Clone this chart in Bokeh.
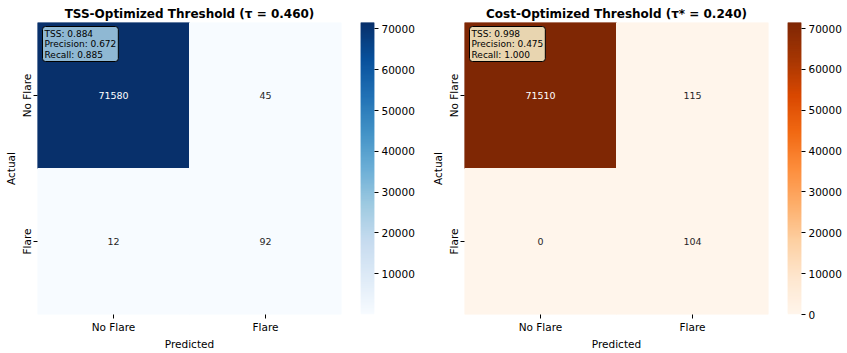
import numpy as np
from bokeh.plotting import figure
from bokeh.layouts import row
from bokeh.models import ColumnDataSource, FixedTicker, FactorRange, Label, Range1d
from bokeh.palettes import Blues256, Oranges256
from bokeh.embed import file_html
from bokeh.resources import INLINE

actual = ["No Flare", "No Flare", "Flare", "Flare"]
predicted = ["No Flare", "Flare", "No Flare", "Flare"]
labels = ["No Flare", "Flare"]

tss_counts = [71580, 45, 12, 92]
cost_counts = [71510, 115, 0, 104]

tss_title = "TSS-Optimized Threshold (τ = 0.460)"
cost_title = "Cost-Optimized Threshold (τ* = 0.240)"
tss_stats = "TSS: 0.884\nPrecision: 0.672\nRecall: 0.885"
cost_stats = "TSS: 0.998\nPrecision: 0.475\nRecall: 1.000"
cbar_ticks = [0, 10000, 20000, 30000, 40000, 50000, 60000, 70000]

FONT = "DejaVu Sans"
H = 353
TOP = 22
BOTTOM = 39


def color_of(v, lo, hi, pal):
    idx = int(round((v - lo) / (hi - lo) * (len(pal) - 1)))
    return pal[max(0, min(len(pal) - 1, idx))]


def style_axis(ax):
    ax.axis_line_color = None
    ax.major_tick_line_color = "black"
    ax.major_tick_out = 4
    ax.major_tick_in = 0
    ax.minor_tick_line_color = None
    ax.major_label_text_font = FONT
    ax.major_label_text_font_size = "10.5px"
    ax.major_label_text_color = "black"
    ax.axis_label_text_font = FONT
    ax.axis_label_text_font_size = "10.5px"
    ax.axis_label_text_font_style = "normal"
    ax.axis_label_text_color = "black"


def heat(counts, palette, title, stats, box_color, width, border_left, border_right):
    pal = list(reversed(palette))
    lo, hi = min(counts), max(counts)
    cols = [color_of(v, lo, hi, pal) for v in counts]
    tcols = ["white" if (v - lo) / (hi - lo) > 0.5 else "#262626" for v in counts]
    src = ColumnDataSource(dict(x=predicted, y=actual, v=counts,
                                t=[str(c) for c in counts], c=cols, tc=tcols))
    p = figure(width=width, height=H,
               x_range=FactorRange(*labels), y_range=FactorRange(*reversed(labels)),
               output_backend="svg", toolbar_location=None, title=title,
               min_border_left=border_left, min_border_right=border_right,
               min_border_top=TOP, min_border_bottom=BOTTOM)
    p.rect(x="x", y="y", width=1, height=1, source=src, fill_color="c", line_color="c")
    p.text(x="x", y="y", text="t", source=src, text_color="tc",
           text_align="center", text_baseline="middle", text_font_size="9.5px",
           text_font={"value": FONT})
    p.title.text_font = FONT
    p.title.text_font_size = "12px"
    p.title.text_font_style = "bold"
    p.title.text_color = "black"
    p.title.align = "center"
    p.title.standoff = 4
    p.title.offset = 0
    for ax in (p.xaxis[0], p.yaxis[0]):
        style_axis(ax)
    p.xaxis.major_label_standoff = 2
    p.xaxis.axis_label_standoff = 2
    p.yaxis.major_label_standoff = 1
    p.yaxis.axis_label_standoff = 1
    p.xaxis.axis_label = "Predicted"
    p.yaxis.axis_label = "Actual"
    p.yaxis.major_label_orientation = "vertical"
    p.xgrid.grid_line_color = None
    p.ygrid.grid_line_color = None
    p.outline_line_color = None
    p.x_range.range_padding = 0
    p.y_range.range_padding = 0

    lab = Label(x=0, y=2, x_offset=5, y_offset=-4, text=stats, text_font=FONT,
                text_font_size="9px", text_align="left", text_baseline="top",
                text_color="black",
                background_fill_color=box_color, background_fill_alpha=1.0,
                border_line_color="black", border_line_width=1,
                padding=2, border_radius=3, text_line_height=1.05)
    p.add_layout(lab)
    return p


def cbar(counts, palette, width, border_left, border_right):
    pal = list(reversed(palette))
    lo, hi = min(counts), max(counts)
    edges = np.linspace(lo, hi, len(pal) + 1)
    step = edges[1] - edges[0]
    p = figure(width=width, height=H, x_range=Range1d(0, 1), y_range=Range1d(lo, hi),
               output_backend="svg", toolbar_location=None, y_axis_location="right",
               min_border_left=border_left, min_border_right=border_right,
               min_border_top=TOP, min_border_bottom=BOTTOM)
    p.quad(left=0, right=1, bottom=edges[:-1], top=edges[1:] + step, fill_color=pal,
           line_color=None)
    p.xaxis.visible = False
    style_axis(p.yaxis[0])
    p.yaxis.ticker = FixedTicker(ticks=cbar_ticks)
    p.yaxis.major_label_standoff = 3
    p.xgrid.grid_line_color = None
    p.ygrid.grid_line_color = None
    p.outline_line_color = None
    return p


p1 = heat(tss_counts, Blues256, tss_title, tss_stats, "#8fb8d3", 360, 37, 19)
c1 = cbar(tss_counts, Blues256, 60, 0, 46)
p2 = heat(cost_counts, Oranges256, cost_title, cost_stats, "#e8d5b0", 367, 44, 19)
c2 = cbar(cost_counts, Oranges256, 60, 0, 46)
layout = row(p1, c1, p2, c2)

open("out.html", "w").write(file_html(layout, INLINE))
